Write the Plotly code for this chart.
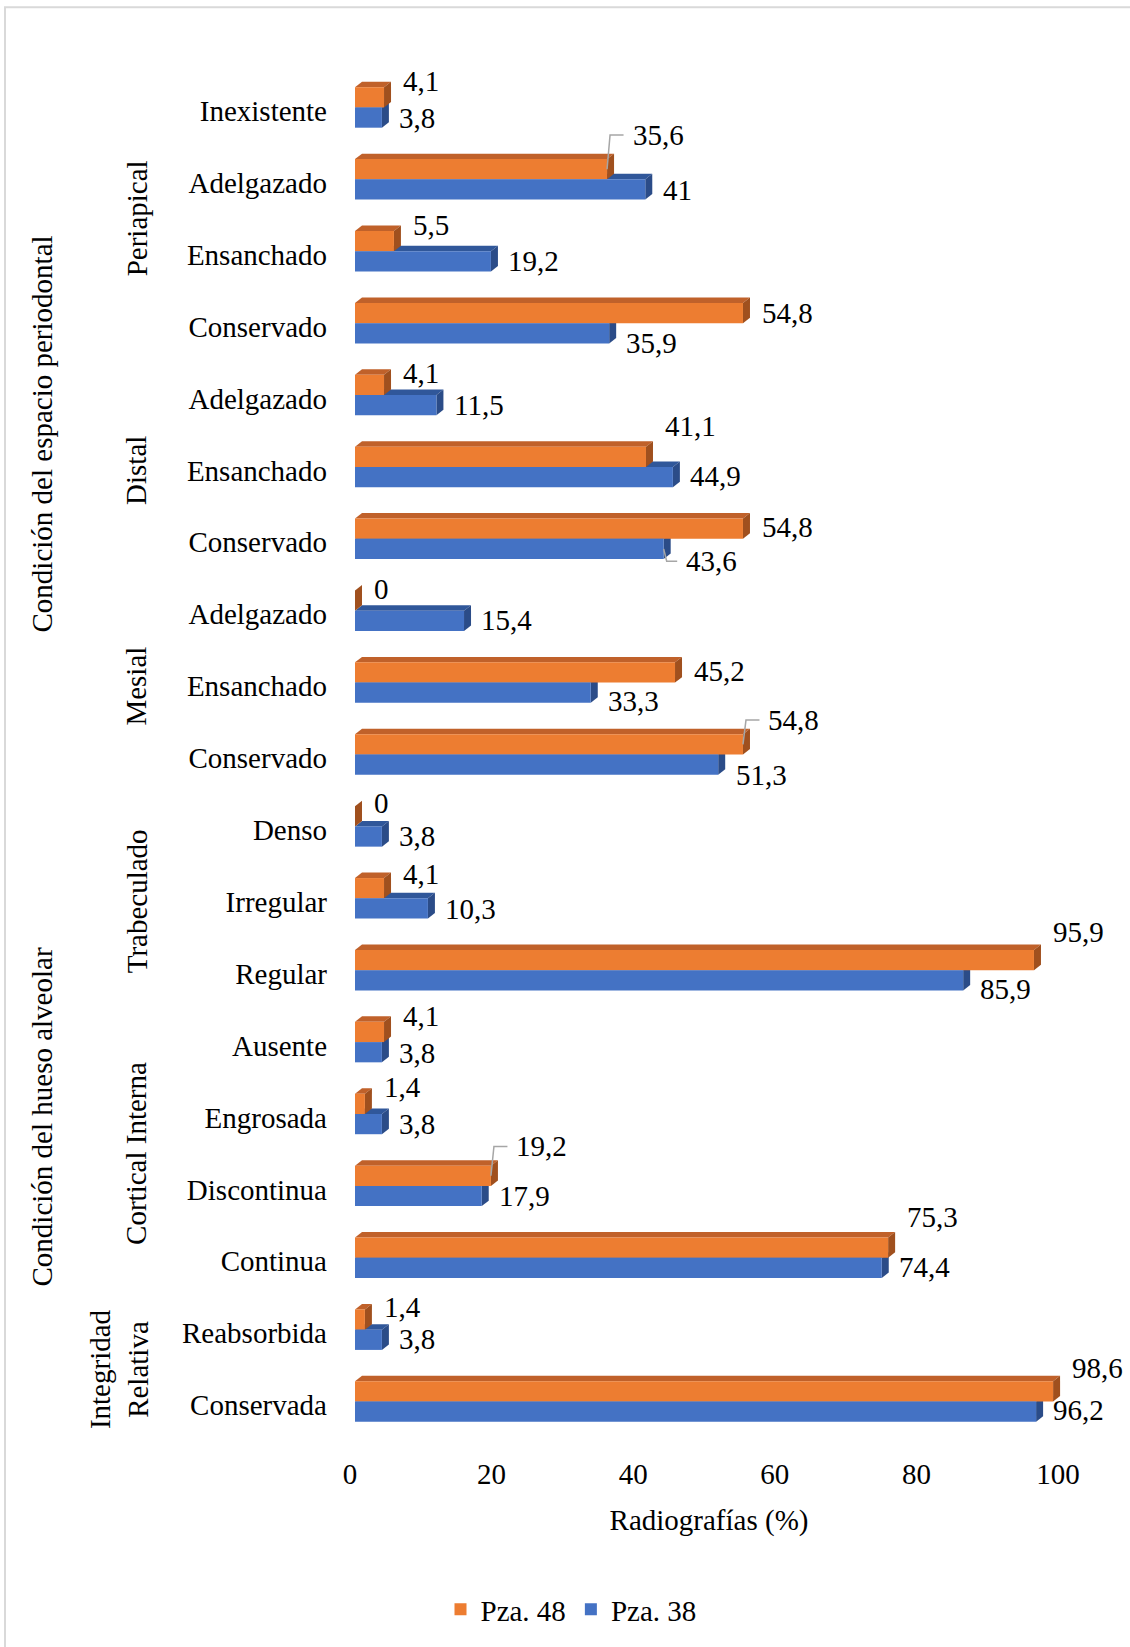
import plotly.graph_objects as go

# ---- data -------------------------------------------------------------
categories = [
    "Inexistente", "Adelgazado", "Ensanchado", "Conservado",
    "Adelgazado", "Ensanchado", "Conservado",
    "Adelgazado", "Ensanchado", "Conservado",
    "Denso", "Irregular", "Regular",
    "Ausente", "Engrosada", "Discontinua", "Continua",
    "Reabsorbida", "Conservada",
]
pza48 = [4.1, 35.6, 5.5, 54.8, 4.1, 41.1, 54.8, 0, 45.2, 54.8,
         0, 4.1, 95.9, 4.1, 1.4, 19.2, 75.3, 1.4, 98.6]
pza38 = [3.8, 41, 19.2, 35.9, 11.5, 44.9, 43.6, 15.4, 33.3, 51.3,
         3.8, 10.3, 85.9, 3.8, 3.8, 17.9, 74.4, 3.8, 96.2]

subgroups = [("Periapical", 0, 3), ("Distal", 4, 6), ("Mesial", 7, 9),
             ("Trabeculado", 10, 12), ("Cortical Interna", 13, 16),
             ("Integridad<br>Relativa", 17, 18)]
groups = [("Condición del espacio periodontal", 0, 9),
          ("Condición del hueso alveolar", 10, 18)]

x_ticks = [0, 20, 40, 60, 80, 100]

# ---- styling / layout constants --------------------------------------
W, H = 1130, 1647
L, R, T, B = 355, 67, 75, 202
PW, PH = W - L - R, H - T - B
N = len(categories)
UX = 100 / PW           # x data units per pixel
UY = N / PH             # y data units per pixel

FONT = "Liberation Serif, Times New Roman, serif"
FS = 29
ORANGE, ORANGE_TOP, ORANGE_SIDE = "#ED7D31", "#C0612A", "#A0501E"
BLUE, BLUE_TOP, BLUE_SIDE = "#4472C4", "#30579A", "#2B4C88"
LEADER = "#A6A6A6"

BW = 20.3 * UY          # bar thickness
SHIFT = 3.5 * UY        # pair raised slightly above the tick
DX, DY = 7 * UX, 5.5 * UY  # depth of the 3D faces

# label nudges (px, screen down positive)
lbl48_dy = [-30, -48, -30, -14, -26, -44, -15, -25, -15, -38,
            -27, -28, -42, -30, -30, -43, -44, -26, -37]
lbl38_dy = [7, 7, 6, 16, 6, 6, 19, 6, 15, 17,
            6, 7, 15, 7, 7, 7, 6, 6, 5]
leader48 = {1, 9, 15}
leader38 = {6}

ypos = list(range(N))


def fmt(v):
    return f"{v:g}".replace(".", ",")


def px_x(px):
    return (px - L) / PW


def px_y(py):
    return (H - B - py) / PH


fig = go.Figure()
fig.add_trace(go.Bar(
    name="Pza. 48", y=ypos, x=pza48, orientation="h",
    width=BW, offset=-(SHIFT + BW),
    marker=dict(color=ORANGE, line=dict(width=0)),
))
fig.add_trace(go.Bar(
    name="Pza. 38", y=ypos, x=pza38, orientation="h",
    width=BW, offset=-SHIFT,
    marker=dict(color=BLUE, line=dict(width=0)),
))

shapes = []


def faces(v, yt, yb, top_col, side_col):
    top = (f"M 0,{yt} L {v},{yt} L {v + DX},{yt - DY} "
           f"L {DX},{yt - DY} Z")
    side = (f"M {v},{yt} L {v},{yb} L {v + DX},{yb - DY} "
            f"L {v + DX},{yt - DY} Z")
    out = []
    for path, col in ((top, top_col), (side, side_col)):
        out.append(dict(type="path", path=path, xref="x", yref="y",
                        fillcolor=col, line=dict(width=0), layer="below"))
    return out


# blue faces first so the orange ones sit in front
for i, v in enumerate(pza38):
    yt = i - SHIFT
    shapes += faces(v, yt, yt + BW, BLUE_TOP, BLUE_SIDE)
for i, v in enumerate(pza48):
    yt = i - SHIFT - BW
    shapes += faces(v, yt, yt + BW, ORANGE_TOP, ORANGE_SIDE)

annotations = []
for series, dys, leads, dx_def, dx_lead, yc_off in (
        (pza48, lbl48_dy, leader48, 17.8, 24.5, -SHIFT - BW / 2),
        (pza38, lbl38_dy, leader38, 16.3, 21.5, -SHIFT + BW / 2)):
    for i, v in enumerate(series):
        dx = dx_lead if i in leads else dx_def
        annotations.append(dict(
            x=v, y=i, xref="x", yref="y", text=fmt(v), showarrow=False,
            xanchor="left", yanchor="middle", xshift=dx, yshift=-dys[i],
            borderpad=0, font=dict(family=FONT, size=FS, color="#000000"),
        ))
        if i in leads:
            ly = i + dys[i] * UY
            path = (f"M {v},{i + yc_off} L {v + 3 * UX},{ly} "
                    f"L {v + (dx - 8) * UX},{ly}")
            shapes.append(dict(type="path", path=path, xref="x", yref="y",
                               line=dict(color=LEADER, width=1.5),
                               layer="above"))

# rotated group labels on the left
for text, a, b in subgroups:
    cx = 119 if "<br>" in text else 136.5
    annotations.append(dict(
        x=px_x(cx), y=(a + b) / 2, xref="paper", yref="y", text=text,
        textangle=-90, showarrow=False, xanchor="center", yanchor="middle",
        font=dict(family=FONT, size=FS, color="#000000"),
    ))
for text, a, b in groups:
    annotations.append(dict(
        x=px_x(42), y=(a + b) / 2, xref="paper", yref="y", text=text,
        textangle=-90, showarrow=False, xanchor="center", yanchor="middle",
        font=dict(family=FONT, size=FS, color="#000000"),
    ))

# chart-area border
shapes.append(dict(type="rect", xref="paper", yref="paper",
                   x0=px_x(5), x1=px_x(W + 20), y0=px_y(H + 20), y1=px_y(7),
                   line=dict(color="#D9D9D9", width=2),
                   fillcolor="rgba(0,0,0,0)", layer="below"))

fig.update_layout(
    width=W, height=H,
    margin=dict(l=L, r=R, t=T, b=B),
    paper_bgcolor="white", plot_bgcolor="white",
    font=dict(family=FONT, size=FS, color="#000000"),
    barmode="overlay",
    showlegend=True,
    legend=dict(orientation="h", x=px_x(571), y=px_y(1614),
                xanchor="center", yanchor="middle",
                font=dict(family=FONT, size=FS, color="#000000"),
                traceorder="normal", itemwidth=30),
    shapes=shapes,
    annotations=annotations,
)
fig.update_xaxes(
    range=[0, 100], tickvals=x_ticks, ticktext=[str(t) for t in x_ticks],
    showgrid=False, zeroline=False, showline=False, ticks="",
    tickfont=dict(family=FONT, size=FS, color="#000000"),
    ticklabelshift=-5, ticklabelstandoff=13,
    title=dict(text="Radiografías (%)", standoff=20,
               font=dict(family=FONT, size=FS, color="#000000")),
)
fig.update_yaxes(
    range=[N - 0.5, -0.5], tickvals=ypos, ticktext=categories,
    showgrid=False, zeroline=False, showline=False, ticks="",
    tickfont=dict(family=FONT, size=FS, color="#000000"),
    ticklabelstandoff=27,
)

fig.write_html("out.html")
